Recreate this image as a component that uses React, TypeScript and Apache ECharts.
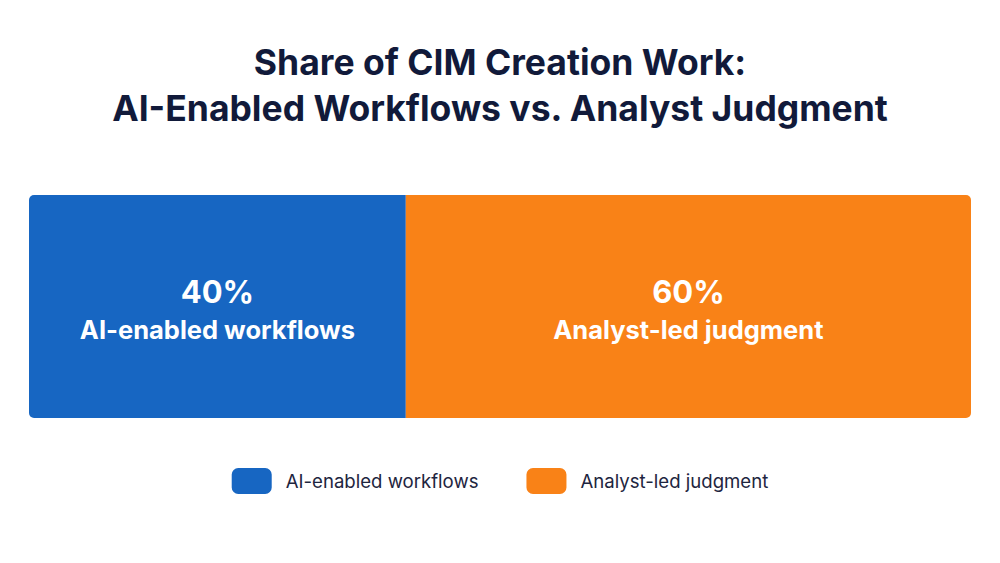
import React, { useEffect, useRef } from "react";
import * as echarts from "echarts";

const categories = ["CIM creation work"];
const seriesNames = ["AI-enabled workflows", "Analyst-led judgment"];
const seriesValues = [40, 60];
const seriesColors = ["#1766C2", "#F98217"];
const titleLines = ["Share of CIM Creation Work:", "AI-Enabled Workflows vs. Analyst Judgment"];

export default function App() {
  const ref = useRef<HTMLDivElement>(null);
  useEffect(() => {
    if (!ref.current) return;
    const chart = echarts.init(ref.current, null, { renderer: "svg" });
    const n = seriesValues.length;
    chart.setOption({
      animation: false,
      backgroundColor: "#FFFFFF",
      textStyle: { fontFamily: "Inter, 'Noto Sans', sans-serif" },
      title: {
        text: titleLines.join("\n"),
        left: "center",
        top: 34,
        textStyle: {
          fontFamily: "Inter, sans-serif",
          fontSize: 35.5,
          fontWeight: 700,
          color: "#111A3A",
          lineHeight: 46,
        },
      },
      legend: {
        data: seriesNames,
        left: "center",
        top: 463,
        icon: "roundRect",
        itemWidth: 40,
        itemHeight: 26,
        itemGap: 48,
        textStyle: { fontSize: 18.6, color: "#1E2540", padding: [0, 0, 0, 9] },
      },
      grid: { left: 29, right: 29, top: 195, height: 223, containLabel: false },
      xAxis: { type: "value", min: 0, max: 100, show: false },
      yAxis: { type: "category", data: categories, show: false },
      series: seriesNames.map((name, i) => ({
        name,
        type: "bar",
        stack: "total",
        barWidth: "100%",
        data: [seriesValues[i]],
        itemStyle: {
          color: seriesColors[i],
          borderRadius: i === 0 ? [5, 0, 0, 5] : i === n - 1 ? [0, 5, 5, 0] : 0,
        },
        label: {
          show: true,
          position: "inside",
          offset: [0, 3],
          formatter: (p: any) => `{v|${p.value}%}\n{n|${p.seriesName}}`,
          rich: {
            v: { fontSize: 31, fontWeight: 700, color: "#FFFFFF", lineHeight: 40, fontFamily: "Inter, sans-serif" },
            n: { fontSize: 25.5, fontWeight: 700, color: "#FFFFFF", lineHeight: 36, fontFamily: "Inter, sans-serif" },
          },
        },
      })),
    });
    return () => chart.dispose();
  }, []);
  return (
    <div
      ref={ref}
      style={{ position: "fixed", left: 0, top: 0, width: 1000, height: 563 }}
    />
  );
}
